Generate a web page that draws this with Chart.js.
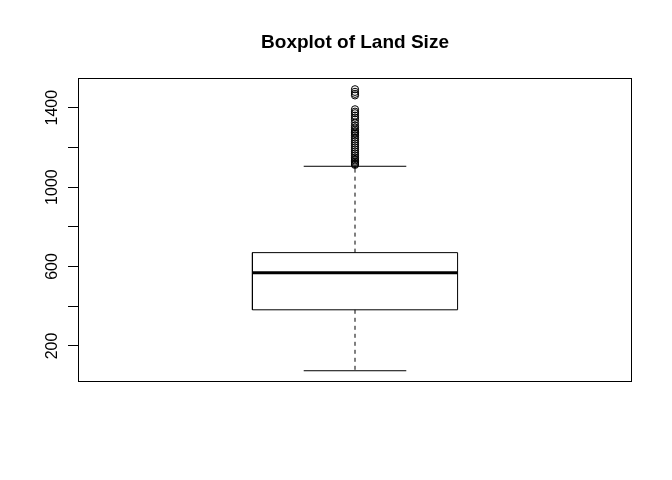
<!DOCTYPE html>
<html>
<head>
<meta charset="utf-8">
<script src="https://cdn.jsdelivr.net/npm/chart.js@4/dist/chart.umd.min.js"></script>
<style>
  html, body { margin: 0; padding: 0; background: #ffffff; }
  #wrap { width: 672px; height: 480px; }
</style>
</head>
<body>
<div id="wrap"><canvas id="c" width="672" height="480"></canvas></div>
<script>
// ---- data ----
const chartTitle = 'Boxplot of Land Size';
const categories = ['Land Size'];
const boxPosition = [1];
const lowerWhisker = [75];
const lowerQuartile = [382];
const medianValue = [569];
const upperQuartile = [670];
const upperWhisker = [1105];
const outlierValues = [1493, 1480, 1470, 1462, 1392, 1380, 1372, 1360, 1350, 1340, 1325,
  1310, 1300, 1290, 1282, 1275, 1268, 1260, 1250, 1240, 1230, 1220, 1210, 1200, 1190,
  1180, 1170, 1160, 1150, 1142, 1135, 1128, 1122, 1116, 1112];
const yTickValues = [200, 400, 600, 800, 1000, 1200, 1400];
const yTickLabels = ['200', '', '600', '', '1000', '', '1400'];

// ---- geometry (R-like) ----
const boxHalf = 0.2, capHalf = 0.1;
const allVals = lowerWhisker.concat(upperWhisker, outlierValues);
const dMin = Math.min(...allVals), dMax = Math.max(...allVals);
const ext = 0.04 * (dMax - dMin);
const yMin = dMin - ext, yMax = dMax + ext;

const datasets = [];
categories.forEach((cat, i) => {
  const x = boxPosition[i];
  const base = { showLine: true, pointRadius: 0, pointHoverRadius: 0, borderColor: '#000', fill: false, tension: 0 };
  datasets.push(Object.assign({}, base, { label: cat + ' box', borderWidth: 1,
    data: [{x: x - boxHalf, y: lowerQuartile[i]}, {x: x + boxHalf, y: lowerQuartile[i]},
           {x: x + boxHalf, y: upperQuartile[i]}, {x: x - boxHalf, y: upperQuartile[i]},
           {x: x - boxHalf, y: lowerQuartile[i]}] }));
  datasets.push(Object.assign({}, base, { label: cat + ' median', borderWidth: 3, borderCapStyle: 'butt',
    data: [{x: x - boxHalf, y: medianValue[i]}, {x: x + boxHalf, y: medianValue[i]}] }));
  datasets.push(Object.assign({}, base, { label: cat + ' upper whisker', borderWidth: 1, borderDash: [4, 4],
    data: [{x: x, y: upperQuartile[i]}, {x: x, y: upperWhisker[i]}] }));
  datasets.push(Object.assign({}, base, { label: cat + ' lower whisker', borderWidth: 1, borderDash: [4, 4],
    data: [{x: x, y: lowerQuartile[i]}, {x: x, y: lowerWhisker[i]}] }));
  datasets.push(Object.assign({}, base, { label: cat + ' upper cap', borderWidth: 1,
    data: [{x: x - capHalf, y: upperWhisker[i]}, {x: x + capHalf, y: upperWhisker[i]}] }));
  datasets.push(Object.assign({}, base, { label: cat + ' lower cap', borderWidth: 1,
    data: [{x: x - capHalf, y: lowerWhisker[i]}, {x: x + capHalf, y: lowerWhisker[i]}] }));
  datasets.push({ label: cat + ' outliers', showLine: false, pointStyle: 'circle', pointRadius: 3.6,
    pointBorderWidth: 1, pointBorderColor: '#000', pointBackgroundColor: 'rgba(0,0,0,0)',
    data: outlierValues.map(v => ({x: x, y: v})) });
});

const FONT = '"Liberation Sans", Arial, Helvetica, sans-serif';

const rDecor = {
  id: 'rDecor',
  afterDraw(chart) {
    const ctx = chart.ctx, a = chart.chartArea, ys = chart.scales.y;
    ctx.save();
    // plot box
    ctx.strokeStyle = '#000';
    ctx.lineWidth = 1;
    ctx.strokeRect(Math.round(a.left) + 0.5, Math.round(a.top) + 0.5,
                   Math.round(a.right - a.left) - 1, Math.round(a.bottom - a.top) - 1);
    // title
    ctx.fillStyle = '#000';
    ctx.font = 'bold 19px ' + FONT;
    ctx.textAlign = 'center';
    ctx.textBaseline = 'alphabetic';
    ctx.fillText(chartTitle, (a.left + a.right) / 2, 48);
    // rotated y tick labels
    ctx.font = '16px ' + FONT;
    yTickValues.forEach((v, k) => {
      const lab = yTickLabels[k];
      if (!lab) return;
      const py = ys.getPixelForValue(v);
      ctx.save();
      ctx.translate(56.5, py);
      ctx.rotate(-Math.PI / 2);
      ctx.textAlign = 'center';
      ctx.textBaseline = 'alphabetic';
      ctx.fillText(lab, 0, 0);
      ctx.restore();
    });
    ctx.restore();
  }
};

new Chart(document.getElementById('c'), {
  type: 'scatter',
  data: { datasets },
  options: {
    responsive: false,
    animation: false,
    devicePixelRatio: 1,
    layout: { padding: { left: 0, right: 40, top: 78, bottom: 0 } },
    plugins: { legend: { display: false }, tooltip: { enabled: false }, title: { display: false } },
    scales: {
      x: {
        type: 'linear', min: 0.46, max: 1.54,
        ticks: { display: false },
        grid: { display: false },
        border: { display: false },
        afterFit(s) { s.height = 98; }
      },
      y: {
        type: 'linear', min: yMin, max: yMax,
        afterBuildTicks(s) { s.ticks = yTickValues.map(v => ({ value: v })); },
        ticks: { display: false },
        grid: { display: true, drawOnChartArea: false, drawTicks: true, tickLength: 10, color: '#000', lineWidth: 1 },
        border: { display: false },
        afterFit(s) { s.width = 78; }
      }
    }
  },
  plugins: [rDecor]
});
</script>
</body>
</html>
